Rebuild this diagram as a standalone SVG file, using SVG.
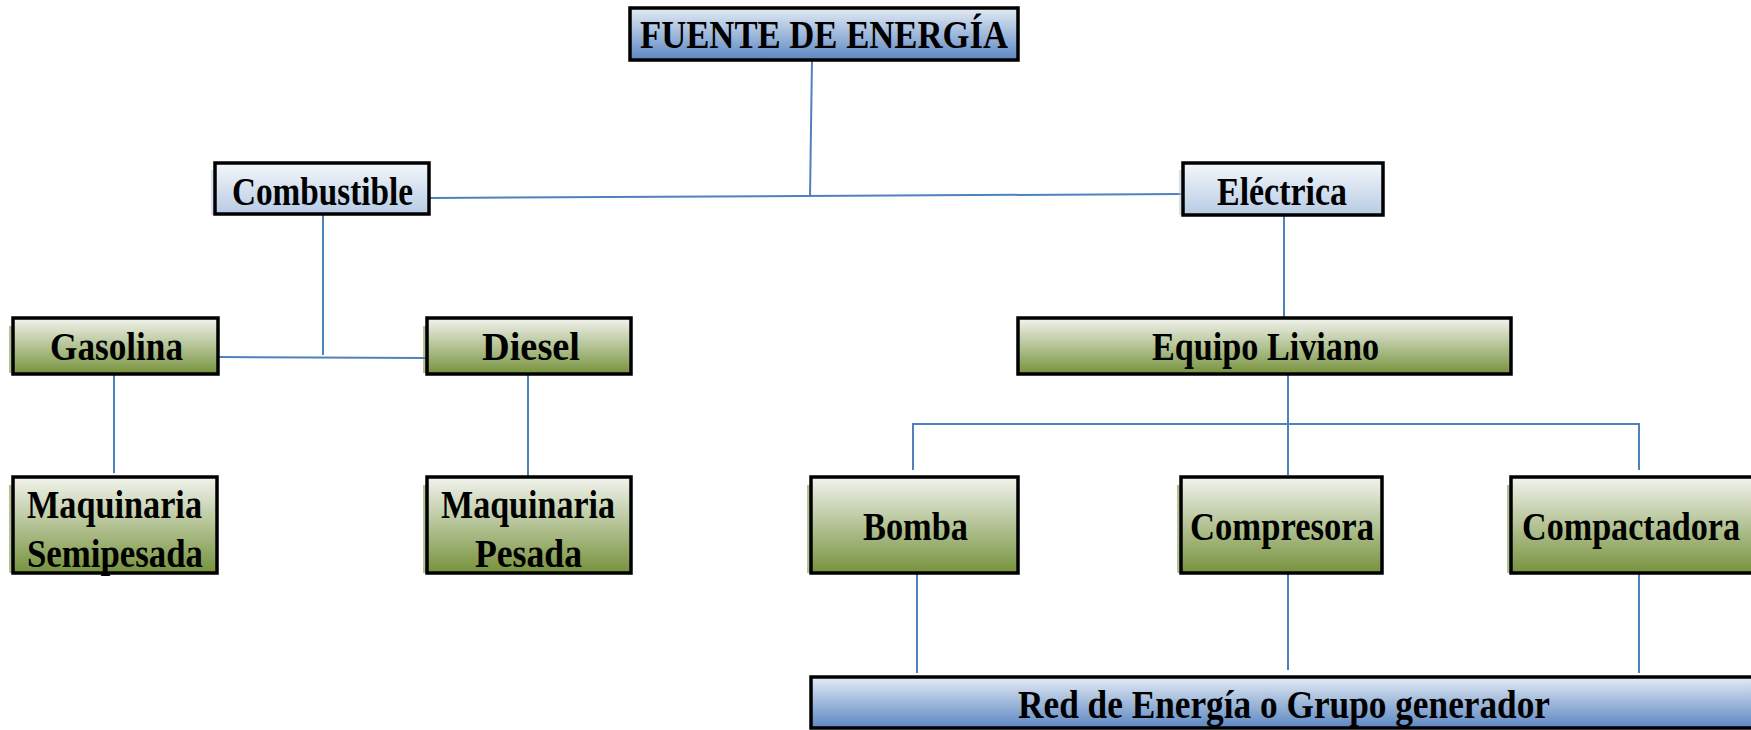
<svg xmlns="http://www.w3.org/2000/svg" width="1751" height="730" viewBox="0 0 1751 730">
<defs>
<linearGradient id="gBlue" x1="0" y1="0" x2="0" y2="1">
<stop offset="0" stop-color="#e4ebf5"/><stop offset="1" stop-color="#5b87c1"/>
</linearGradient>
<linearGradient id="gLight" x1="0" y1="0" x2="0" y2="1">
<stop offset="0" stop-color="#f4f7fb"/><stop offset="1" stop-color="#b7cbe4"/>
</linearGradient>
<linearGradient id="gGreen" x1="0" y1="0" x2="0" y2="1">
<stop offset="0" stop-color="#f2f4ee"/><stop offset="1" stop-color="#76923c"/>
</linearGradient>
</defs>
<style>
.box{stroke:#000;stroke-width:3.5}
.sh{opacity:0.55}
.t{font-family:"Liberation Serif","Times New Roman",serif;font-weight:bold;font-size:41px;fill:#000}
.c{stroke:#4f81bd;stroke-width:2;fill:none}
</style>
<rect width="1751" height="730" fill="#fff"/>
<g id="connectors">
<line class="c" x1="812" y1="59" x2="810" y2="197"/>
<line class="c" x1="429" y1="198" x2="1182" y2="194"/>
<line class="c" x1="323" y1="215" x2="323" y2="355"/>
<line class="c" x1="217" y1="357" x2="427" y2="358"/>
<line class="c" x1="114" y1="374" x2="114" y2="473"/>
<line class="c" x1="528" y1="374" x2="528" y2="476"/>
<line class="c" x1="1284" y1="215" x2="1284" y2="318"/>
<line class="c" x1="1288" y1="374" x2="1288" y2="475"/>
<polyline class="c" points="913,470 913,424 1639,424 1639,470"/>
<line class="c" x1="917" y1="574" x2="917" y2="673"/>
<line class="c" x1="1288" y1="574" x2="1288" y2="670"/>
<line class="c" x1="1639" y1="574" x2="1639" y2="673"/>
</g>
<g id="fuente">
<rect class="box" x="630" y="8" width="388" height="52" fill="url(#gBlue)"/>
<text class="t" x="640" y="48" textLength="368" lengthAdjust="spacingAndGlyphs">FUENTE DE ENERGÍA</text>
</g>
<g id="combustible">
<rect class="sh" x="211" y="170" width="214" height="45" fill="#b7cbe4"/>
<rect class="box" x="215" y="163" width="214" height="51" fill="url(#gLight)"/>
<text class="t" x="232" y="205" textLength="181" lengthAdjust="spacingAndGlyphs">Combustible</text>
</g>
<g id="electrica">
<rect class="sh" x="1179" y="170" width="200" height="45" fill="#b7cbe4"/>
<rect class="box" x="1183" y="163" width="200" height="52" fill="url(#gLight)"/>
<text class="t" x="1217" y="205" textLength="130" lengthAdjust="spacingAndGlyphs">Eléctrica</text>
</g>
<g id="gasolina">
<rect class="sh" x="9" y="326" width="204" height="47" fill="#76923c"/>
<rect class="box" x="13" y="318" width="205" height="56" fill="url(#gGreen)"/>
<text class="t" x="50" y="360" textLength="133" lengthAdjust="spacingAndGlyphs">Gasolina</text>
</g>
<g id="diesel">
<rect class="sh" x="423" y="326" width="204" height="47" fill="#76923c"/>
<rect class="box" x="427" y="318" width="204" height="56" fill="url(#gGreen)"/>
<text class="t" x="482" y="360" textLength="98" lengthAdjust="spacingAndGlyphs">Diesel</text>
</g>
<g id="equipo-liviano">
<rect class="box" x="1018" y="318" width="493" height="56" fill="url(#gGreen)"/>
<text class="t" x="1152" y="360" textLength="227" lengthAdjust="spacingAndGlyphs">Equipo Liviano</text>
</g>
<g id="maq-semipesada">
<rect class="sh" x="9" y="485" width="204" height="88" fill="#76923c"/>
<rect class="box" x="13" y="477" width="204" height="96" fill="url(#gGreen)"/>
<text class="t" x="27" y="518" textLength="175" lengthAdjust="spacingAndGlyphs">Maquinaria</text>
<text class="t" x="27" y="567" textLength="176" lengthAdjust="spacingAndGlyphs">Semipesada</text>
</g>
<g id="maq-pesada">
<rect class="sh" x="423" y="485" width="204" height="88" fill="#76923c"/>
<rect class="box" x="427" y="477" width="204" height="96" fill="url(#gGreen)"/>
<text class="t" x="441" y="518" textLength="174" lengthAdjust="spacingAndGlyphs">Maquinaria</text>
<text class="t" x="475" y="567" textLength="107" lengthAdjust="spacingAndGlyphs">Pesada</text>
</g>
<g id="bomba">
<rect class="sh" x="807" y="485" width="207" height="88" fill="#76923c"/>
<rect class="box" x="811" y="477" width="207" height="96" fill="url(#gGreen)"/>
<text class="t" x="863" y="540" textLength="105" lengthAdjust="spacingAndGlyphs">Bomba</text>
</g>
<g id="compresora">
<rect class="sh" x="1177" y="485" width="201" height="88" fill="#76923c"/>
<rect class="box" x="1181" y="477" width="201" height="96" fill="url(#gGreen)"/>
<text class="t" x="1190" y="540" textLength="184" lengthAdjust="spacingAndGlyphs">Compresora</text>
</g>
<g id="compactadora">
<rect class="sh" x="1507" y="485" width="250" height="88" fill="#76923c"/>
<rect class="box" x="1511" y="477" width="250" height="96" fill="url(#gGreen)"/>
<text class="t" x="1522" y="540" textLength="218" lengthAdjust="spacingAndGlyphs">Compactadora</text>
</g>
<g id="red-energia">
<rect class="box" x="811" y="677" width="950" height="51" fill="url(#gBlue)"/>
<text class="t" x="1018" y="718" textLength="532" lengthAdjust="spacingAndGlyphs">Red de Energía o Grupo generador</text>
</g>
</svg>
